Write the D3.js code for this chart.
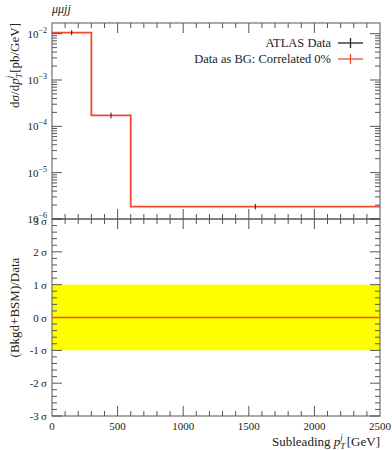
<!DOCTYPE html>
<html>
<head>
<meta charset="utf-8">
<script src="https://cdn.jsdelivr.net/npm/d3@7"></script>
<style>
body { margin: 0; background: #fff; }
text { font-family: "Liberation Serif", "DejaVu Serif", serif; fill: #222; }
</style>
</head>
<body>
<div id="chart"></div>
<script>
'use strict';

const binEdges = [0, 300, 600, 2500];
const dataCentres = [150, 450, 1550];
const dataValues = [1.05e-2, 1.72e-4, 1.85e-6];
const dataErrors = [0.05e-2, 0.12e-4, 0.12e-6];
const bgValues = [1.05e-2, 1.72e-4, 1.85e-6];
const ratioValues = [0, 0, 0];
const xTicks = [0, 500, 1000, 1500, 2000, 2500];
const logTicks = [-2, -3, -4, -5, -6];
const sigmaTicks = [3, 2, 1, 0, -1, -2, -3];
const legendLabels = ['ATLAS Data', 'Data as BG: Correlated 0%'];

const W = 392, H = 450;
const left = 52, right = 380;
const topY = 23, midY = 219, botY = 416;
const red = '#f04a30';

const svg = d3.select('#chart').append('svg')
    .attr('width', W).attr('height', H);

const x = d3.scaleLinear().domain([0, 2500]).range([left, right]);
const yTop = d3.scaleLog().domain([1e-6, 1.7e-2]).range([midY, topY]);
const yBot = d3.scaleLinear().domain([-3, 3]).range([botY, midY]);

// yellow band
svg.append('rect')
    .attr('x', x(0)).attr('width', x(2500) - x(0))
    .attr('y', yBot(1)).attr('height', yBot(-1) - yBot(1))
    .attr('fill', '#ffff00');

// histogram
function stepPath(vals, y) {
    var d = '';
    for (var i = 0; i < vals.length; ++i) {
        d += (i === 0 ? 'M' : 'L') + x(binEdges[i]) + ',' + y(vals[i]);
        d += 'L' + x(binEdges[i + 1]) + ',' + y(vals[i]);
    }
    return d;
}
svg.append('path').attr('d', stepPath(bgValues, yTop))
    .attr('fill', 'none').attr('stroke', red).attr('stroke-width', 1.8);

// data points
dataCentres.forEach((c, i) => {
    svg.append('line')
        .attr('x1', x(c)).attr('x2', x(c))
        .attr('y1', yTop(dataValues[i] + dataErrors[i]) - 1.5)
        .attr('y2', yTop(dataValues[i] - dataErrors[i]) + 1.5)
        .attr('stroke', '#222').attr('stroke-width', 1);
});

// frames
[[topY, midY], [midY, botY]].forEach(([a, b]) => {
    svg.append('rect').attr('x', left).attr('y', a)
        .attr('width', right - left).attr('height', b - a)
        .attr('fill', 'none').attr('stroke', '#555').attr('stroke-width', 1);
});

const tickCol = '#555';
function tick(x1, y1, x2, y2, col, w) {
    return svg.append('line').attr('x1', x1).attr('y1', y1).attr('x2', x2).attr('y2', y2)
        .attr('stroke', col || tickCol).attr('stroke-width', w || 1);
}

// x ticks on all horizontal edges
d3.range(0, 2501, 100).forEach((v) => {
    var major = v % 500 === 0;
    var len = major ? 10 : 5;
    var px = x(v);
    if (v === 0 || v === 2500) return;
    tick(px, topY, px, topY + len);
    tick(px, midY, px, midY - len);
    tick(px, midY, px, midY + len);
    tick(px, botY, px, botY - len);
});

// log y ticks
for (var e = -6; e <= -2; ++e) {
    for (var m = 1; m <= 9; ++m) {
        var v = m * Math.pow(10, e);
        if (v > 1.7e-2) continue;
        var py = yTop(v);
        var len = m === 1 ? 10 : 5;
        tick(left, py, left + len, py);
        tick(right, py, right - len, py);
    }
}

// sigma ticks
d3.range(-3, 3.01, 0.2).forEach((v) => {
    var r = Math.round(v * 10) / 10;
    var major = Math.abs(r - Math.round(r)) < 1e-6;
    var len = major ? 10 : 5;
    var py = yBot(r);
    tick(left, py, left + len, py);
    tick(right, py, right - len, py);
});

// ratio line on top of the ticks
svg.append('path').attr('d', stepPath(ratioValues, yBot))
    .attr('fill', 'none').attr('stroke', red).attr('stroke-width', 1.5);

// tick labels
logTicks.forEach((t) => {
    var tx = svg.append('text').attr('x', left - 5).attr('y', yTop(Math.pow(10, t)) + 4)
        .attr('text-anchor', 'end').attr('font-size', 11);
    tx.append('tspan').text('10');
    tx.append('tspan').attr('dy', -5).attr('font-size', 8).text('\u2212' + Math.abs(t));
});
sigmaTicks.forEach((t) => {
    svg.append('text').attr('x', left - 5).attr('y', yBot(t) + 4 + (t === 3 ? 2 : 0))
        .attr('text-anchor', 'end').attr('font-size', 11)
        .text(t + '\u2009\u03c3');
});
xTicks.forEach((t) => {
    svg.append('text').attr('x', x(t)).attr('y', botY + 14)
        .attr('text-anchor', 'middle').attr('font-size', 11).text(t);
});

// title
svg.append('text').attr('x', left).attr('y', 13)
    .attr('font-size', 12).attr('font-style', 'italic').text('\u03bc\u03bcjj');

// legend
legendLabels.forEach((lab, i) => {
    var ly = 43 + i * 16;
    svg.append('text').attr('x', 331).attr('y', ly + 4)
        .attr('text-anchor', 'end').attr('font-size', 12.5).text(lab);
    var col = i === 0 ? '#222' : red;
    tick(338, ly, 363, ly, col, 1.3);
    tick(350.5, ly - 5, 350.5, ly + 5, col, 1.3);
});

// axis labels
var yl = svg.append('text')
    .attr('transform', 'translate(19,' + topY + ') rotate(-90)')
    .attr('text-anchor', 'end').attr('font-size', 13);
yl.append('tspan').text('d');
yl.append('tspan').attr('font-style', 'italic').text('\u03c3');
yl.append('tspan').text('/d');
yl.append('tspan').attr('font-style', 'italic').text('p');
yl.append('tspan').attr('font-style', 'italic').attr('font-size', 9).attr('dy', 3).text('T');
yl.append('tspan').attr('font-style', 'italic').attr('font-size', 9).attr('dy', -10).attr('dx', -5).text('j');
yl.append('tspan').attr('dy', 7).attr('dx', 3).text('[pb/GeV]');

svg.append('text')
    .attr('transform', 'translate(19,' + (yBot(0) - 10) + ') rotate(-90)')
    .attr('text-anchor', 'middle').attr('font-size', 13)
    .text('(Bkgd+BSM)/Data');

var xl = svg.append('text').attr('x', right).attr('y', 446)
    .attr('text-anchor', 'end').attr('font-size', 13);
xl.append('tspan').text('Subleading ');
xl.append('tspan').attr('font-style', 'italic').text('p');
xl.append('tspan').attr('font-style', 'italic').attr('font-size', 9).attr('dy', 3).text('T');
xl.append('tspan').attr('font-style', 'italic').attr('font-size', 9).attr('dy', -9).attr('dx', -5).text('j');
xl.append('tspan').attr('dy', 6).attr('dx', 4).text('[GeV]');
</script>
</body>
</html>
